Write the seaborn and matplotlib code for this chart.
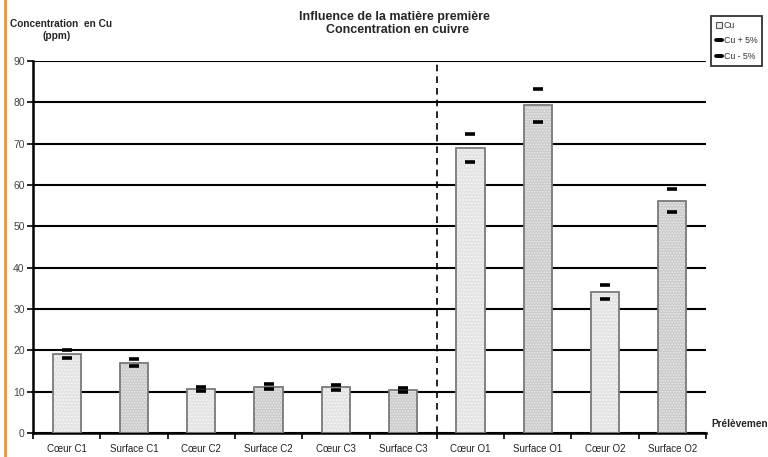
import matplotlib
matplotlib.use("Agg")
import matplotlib.pyplot as plt
import seaborn as sns
import pandas as pd
import numpy as np
from matplotlib.lines import Line2D
from matplotlib.patches import Patch

categories = ["Cœur C1", "Surface C1", "Cœur C2", "Surface C2", "Cœur C3",
              "Surface C3", "Cœur O1", "Surface O1", "Cœur O2", "Surface O2"]
cu = [19.2, 17.0, 10.7, 11.2, 11.1, 10.3, 68.9, 79.3, 34.2, 56.2]
cu_plus = [20.2, 17.9, 11.2, 11.8, 11.7, 10.8, 72.3, 83.3, 35.9, 59.0]
cu_minus = [18.2, 16.2, 10.2, 10.6, 10.5, 9.8, 65.5, 75.3, 32.5, 53.4]
yticks = [0, 10, 20, 30, 40, 50, 60, 70, 80, 90]

sns.set_theme(style="white")
plt.rcParams['font.family'] = ['Liberation Sans', 'DejaVu Sans']
plt.rcParams['hatch.linewidth'] = 0.7

df = pd.DataFrame({"cat": categories, "Cu": cu})

fig = plt.figure(figsize=(7.68, 4.57), dpi=100)
ax = fig.add_axes([33/768, 24/457, (706-33)/768, (433-61)/457])

# grid lines
for v in yticks:
    ax.axhline(v, color='black', lw=1.5, zorder=0)

sns.barplot(data=df, x="cat", y="Cu", ax=ax, width=0.42, color='#eeeeee',
            saturation=1, zorder=2)
for i, p in enumerate(ax.patches):
    if i % 2 == 0:
        p.set_facecolor('#e4e4e4')
        p.set_hatch('.....')
        p.set_edgecolor('#f8f8f8')
    else:
        p.set_facecolor('#cccccc')
        p.set_hatch('......')
        p.set_edgecolor('#ececec')
    p.set_linewidth(0)
    x0, w, h = p.get_x(), p.get_width(), p.get_height()
    ax.add_patch(plt.Rectangle((x0, 0), w, h, fill=False, edgecolor='#7a7a7a',
                               lw=1.3, zorder=3))

xs = np.arange(len(categories))
ax.plot(xs, cu_plus, linestyle='none', marker='_', ms=7.5, mew=2.6,
        color='black', zorder=5)
ax.plot(xs, cu_minus, linestyle='none', marker='_', ms=7.5, mew=2.6,
        color='black', zorder=5)

ax.axvline(5.5, color='black', lw=1.2, ls=(0, (4, 3)), zorder=4)

ax.set_xlim(-0.5, 9.5)
ax.set_ylim(0, 90)
ax.set_yticks(yticks)
ax.set_yticklabels([str(v) for v in yticks], fontsize=7.5, color='#444444')
ax.set_xticks(np.arange(-0.5, 10, 1.0))
ax.set_xticklabels([])
ax.set_xticks(xs, minor=True)
ax.set_xticklabels(categories, minor=True, fontsize=7, color='#222222')
ax.tick_params(axis='x', which='major', direction='out', length=4, width=1.2,
               color='black', bottom=True)
ax.tick_params(axis='x', which='minor', length=0, pad=8, bottom=True)
ax.tick_params(axis='y', direction='out', length=4, width=1.2, color='black',
               left=True, pad=2)
ax.set_xlabel("")
ax.set_ylabel("")
for s in ['top', 'right']:
    ax.spines[s].set_visible(False)
ax.spines['left'].set_color('black')
ax.spines['left'].set_linewidth(1.8)
ax.spines['bottom'].set_color('black')
ax.spines['bottom'].set_linewidth(1.8)

fig.text(394/768, 1 - 17/457, "Influence de la matière première", ha='center',
         va='center', fontsize=9, fontweight='bold')
fig.text(398/768, 1 - 30/457, "Concentration en cuivre", ha='center',
         va='center', fontsize=9, fontweight='bold')
fig.text(61/768, 1 - 24/457, "Concentration  en Cu", ha='center', va='center',
         fontsize=7.3, fontweight='bold')
fig.text(57/768, 1 - 36/457, "(ppm)", ha='center', va='center',
         fontsize=7.3, fontweight='bold')
fig.text(711/768, 1 - 424/457, "Prélèvemen", ha='left', va='center',
         fontsize=7.3, fontweight='bold')

# orange left border
fig.add_artist(Line2D([5/768, 5/768], [0, 1], color='#f0962a', lw=2))

handles = [Patch(facecolor='#eeeeee', edgecolor='#555555', lw=0.8),
           Line2D([], [], color='black', lw=2.8),
           Line2D([], [], color='black', lw=2.8)]
leg = fig.legend(handles, ["Cu", "Cu + 5%", "Cu - 5%"], loc='upper left',
                 bbox_to_anchor=(711/768, 1 - 16/457), fontsize=6.3,
                 frameon=True, fancybox=False, handlelength=0.7,
                 handleheight=0.6, handletextpad=0.2, borderpad=0.55,
                 labelspacing=0.75, borderaxespad=0)
leg.get_frame().set_edgecolor('black')
leg.get_frame().set_linewidth(1.3)
for t in leg.get_texts():
    t.set_color('#333333')

fig.savefig("out.png", dpi=100)
